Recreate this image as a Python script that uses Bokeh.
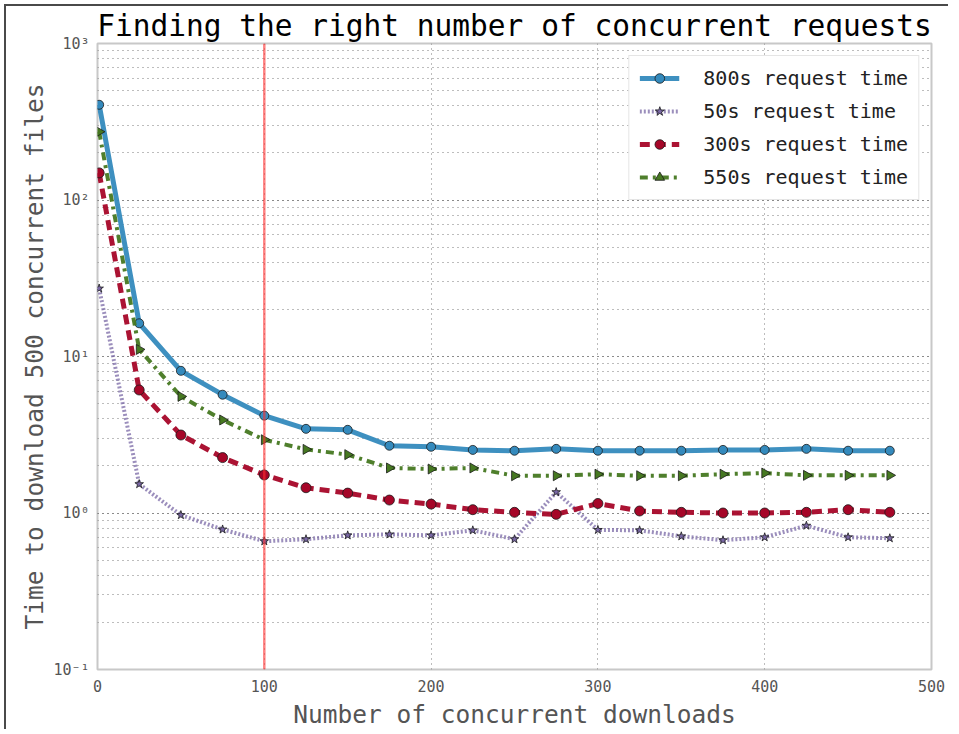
import numpy as np
from bokeh.plotting import figure
from bokeh.models import Span, Range1d, FixedTicker, Legend, ColumnDataSource
from bokeh.embed import file_html
from bokeh.resources import INLINE

concurrent = [1, 25, 50, 75, 100, 125, 150, 175, 200, 225, 250, 275, 300, 325, 350, 375, 400, 425, 450, 475]

t800 = [406, 16.3, 8.1, 5.7, 4.19, 3.45, 3.4, 2.69, 2.65, 2.53, 2.50, 2.57, 2.50, 2.50, 2.50, 2.53, 2.53, 2.57, 2.50, 2.50]
t50 = [27.2, 1.53, 0.97, 0.785, 0.66, 0.68, 0.72, 0.73, 0.72, 0.775, 0.68, 1.36, 0.78, 0.775, 0.71, 0.67, 0.70, 0.83, 0.70, 0.69]
t300 = [149, 6.11, 3.15, 2.26, 1.75, 1.45, 1.34, 1.21, 1.14, 1.05, 1.01, 0.98, 1.15, 1.03, 1.01, 1.0, 1.0, 1.01, 1.05, 1.01]
t550 = [273, 11.1, 5.56, 3.93, 2.94, 2.55, 2.36, 1.94, 1.91, 1.94, 1.73, 1.73, 1.77, 1.73, 1.73, 1.77, 1.80, 1.74, 1.74, 1.74]

labels = ["800s request time", "50s request time", "300s request time", "550s request time"]
x_ticks = [0, 100, 200, 300, 400, 500]
y_tick_labels = {0.1: "10\u207b\u00b9", 1: "10\u2070", 10: "10\u00b9", 100: "10\u00b2", 1000: "10\u00b3"}
marker_line = 100

FONT = "DejaVu Sans Mono"
GRID = "#7a7a7a"

p = figure(width=944, height=725, y_axis_type="log", output_backend="svg",
           toolbar_location=None, x_range=Range1d(0, 500), y_range=Range1d(0.1, 1000),
           title="Finding the right number of concurrent requests",
           min_border_left=91, min_border_right=19, min_border_top=37, min_border_bottom=0)
p.margin = (4, 0, 0, 4)
p.styles = {"border-top": "2px solid #4a4a4a", "border-left": "2px solid #4a4a4a"}

p.title.text_font = FONT
p.title.text_font_size = "29.5px"
p.title.text_font_style = "normal"
p.title.align = "center"
p.title.standoff = 1
p.title.text_color = "black"

p.background_fill_color = "white"
p.border_fill_color = "white"
p.outline_line_color = "#c8c8c8"
p.outline_line_width = 2

# grids
p.xgrid.ticker = FixedTicker(ticks=x_ticks)
p.xgrid.grid_line_color = GRID
p.xgrid.grid_line_dash = "1 4"
p.xgrid.grid_line_width = 1
p.ygrid.grid_line_color = GRID
p.ygrid.grid_line_dash = "1 4"
p.ygrid.minor_grid_line_color = GRID
p.ygrid.minor_grid_line_dash = "1 4"

# axes
p.xaxis.ticker = FixedTicker(ticks=x_ticks)
for ax in (p.xaxis[0], p.yaxis[0]):
    ax.axis_line_color = None
    ax.major_tick_line_color = None
    ax.minor_tick_line_color = None
    ax.major_tick_out = 0
    ax.minor_tick_out = 0
    ax.major_tick_in = 0
    ax.minor_tick_in = 0
    ax.major_label_text_font = FONT
    ax.major_label_text_font_size = "15px"
    ax.major_label_text_color = "#555555"
    ax.axis_label_text_font = FONT
    ax.axis_label_text_font_size = "24.5px"
    ax.axis_label_text_font_style = "normal"
    ax.axis_label_text_color = "#555555"
p.yaxis.major_label_overrides = y_tick_labels
p.xaxis.axis_label = "Number of concurrent downloads"
p.yaxis.axis_label = "Time to download 500 concurrent files"
p.xaxis.major_label_standoff = 10
p.yaxis.major_label_standoff = 8
p.xaxis.axis_label_standoff = 5
p.yaxis.axis_label_standoff = 1

items = []
r1 = p.line(concurrent, t800, line_color="#348ABD", line_width=5, line_alpha=0.95)
s1 = p.scatter(concurrent, t800, marker="circle", size=9, fill_color="#348ABD", line_color="#1a1a1a", line_width=0.8)
items.append((labels[0], [r1, s1]))

r2 = p.line(concurrent, t50, line_color="#7A68A6", line_width=4, line_dash="2 2", line_alpha=0.75)
s2 = p.scatter(concurrent, t50, marker="star", size=9, fill_color="#7A68A6", line_color="#1a1a1a", line_width=0.8)
items.append((labels[1], [r2, s2]))

r3 = p.line(concurrent, t300, line_color="#A60628", line_width=5, line_dash="10 6", line_alpha=0.95)
s3 = p.scatter(concurrent, t300, marker="circle", size=10, fill_color="#A60628", line_color="#1a1a1a", line_width=0.8)
items.append((labels[2], [r3, s3]))

src550 = ColumnDataSource(dict(x=concurrent, y=t550, ang=[-90.0] * len(concurrent)))
r4 = p.line(concurrent, t550, line_color="#467821", line_width=4, line_dash="8 5 3 5", line_alpha=0.95)
s4 = p.scatter("x", "y", source=src550, marker="triangle", angle="ang", angle_units="deg", size=10,
               fill_color="#467821", line_color="#1a1a1a", line_width=0.8)
items.append((labels[3], [r4, s4]))

p.add_layout(Span(location=marker_line, dimension="height", line_color="#ff3030", line_alpha=0.6, line_width=2.5))

legend = Legend(items=items, location="top_right")
legend.label_text_font = FONT
legend.label_text_font_size = "20px"
legend.label_text_color = "#222222"
legend.glyph_width = 40
legend.glyph_height = 24
legend.spacing = 9
legend.padding = 10
legend.margin = 12
legend.label_standoff = 24
legend.border_line_color = "#cccccc"
legend.border_line_width = 1
legend.background_fill_alpha = 1.0
p.add_layout(legend)

open("out.html", "w").write(file_html(p, INLINE))
